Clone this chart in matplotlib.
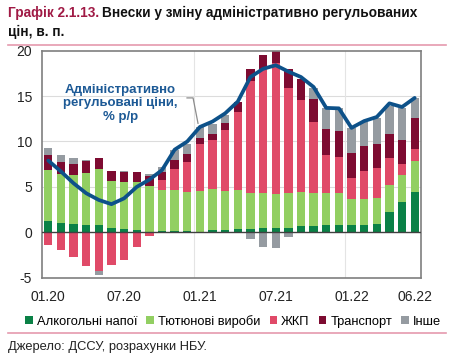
import matplotlib
matplotlib.use("Agg")
import matplotlib.pyplot as plt
import numpy as np

plt.rcParams['font.family'] = ['Liberation Sans', 'DejaVu Sans']

# Дані (в. п.), 01.20 - 06.22
months = ["01.20", "02.20", "03.20", "04.20", "05.20", "06.20", "07.20", "08.20", "09.20", "10.20",
          "11.20", "12.20", "01.21", "02.21", "03.21", "04.21", "05.21", "06.21", "07.21", "08.21",
          "09.21", "10.21", "11.21", "12.21", "01.22", "02.22", "03.22", "04.22", "05.22", "06.22"]
alcohol = [1.28, 1.06, 0.91, 0.78, 0.78, 0.45, 0.35, 0.25, 0.0, 0.1,
           0.1, 0.1, 0.0, 0.25, 0.25, 0.35, 0.33, 0.44, 0.5, 0.5,
           0.7, 0.7, 0.8, 0.8, 0.8, 0.8, 0.9, 2.27, 3.37, 4.48]
tobacco = [5.6, 5.32, 5.36, 5.78, 6.15, 5.2, 5.15, 5.3, 5.15, 4.6,
           4.6, 4.3, 4.6, 4.5, 4.35, 4.3, 3.97, 3.86, 3.7, 3.8,
           3.77, 3.6, 3.5, 3.5, 2.83, 2.83, 2.9, 2.93, 2.93, 3.37]
housing = [-1.35, -1.95, -2.7, -3.7, -4.3, -3.6, -3.1, -1.6, -0.45, 1.1,
           2.3, 3.3, 5.1, 5.4, 6.65, 8.65, 12.35, 13.7, 14.4, 11.55,
           10.1, 7.9, 4.2, 4.0, 2.37, 3.1, 3.25, 3.0, 1.25, 1.32]
transport = [1.62, 1.36, 1.3, 1.34, 1.25, 1.05, 1.1, 1.1, 1.0, 0.85,
             1.0, 0.9, 0.7, 0.65, 0.75, 1.0, 1.35, 1.5, 1.5, 2.15,
             2.35, 2.5, 2.9, 2.85, 2.77, 2.8, 2.65, 2.6, 2.65, 3.43]
other = [0.75, 0.8, 0.6, 0.1, -0.45, 0.0, 0.1, 0.0, 0.25, 0.55,
         1.1, 1.1, 1.2, 1.1, 0.9, 0.0, -0.77, -1.6, -1.77, -0.56,
         0.0, 1.2, 2.25, 2.5, 2.7, 2.6, 2.9, 3.1, 3.5, 2.2]
admin = [7.9, 6.7, 5.4, 4.3, 3.56, 3.1, 3.74, 5.0, 5.8, 6.85,
         9.1, 10.0, 11.6, 12.2, 13.1, 14.4, 17.1, 18.0, 18.4, 17.7,
         17.1, 16.0, 13.7, 13.65, 11.5, 12.25, 12.7, 14.2, 13.8, 14.8]

labels = ["Алкогольні напої", "Тютюнові вироби", "ЖКП", "Транспорт", "Інше"]
colors = ["#0a8146", "#92cf62", "#e04a68", "#7d0b31", "#959ba1"]
tick_pos = [0, 6, 12, 18, 24, 29]

fig = plt.figure(figsize=(4.55, 3.53), dpi=100)
ax = fig.add_axes([0.0917, 0.2133, 0.833, 0.6431])

x = np.arange(len(months))
pos_bottom = np.zeros(len(months))
neg_bottom = np.zeros(len(months))
for vals, col, lab in zip([alcohol, tobacco, housing, transport, other], colors, labels):
    v = np.array(vals)
    bottom = np.where(v >= 0, pos_bottom, neg_bottom)
    ax.bar(x, v, width=0.66, bottom=bottom, color=col, label=lab, zorder=2)
    pos_bottom += np.where(v >= 0, v, 0)
    neg_bottom += np.where(v < 0, v, 0)

ax.plot(x, admin, color="#0d5189", lw=2.7, zorder=4, solid_capstyle="round")
ax.axhline(0, color="#404040", lw=1, zorder=3)

ax.set_xlim(-0.52, 29.48)
ax.set_ylim(-5, 20)
ax.set_yticks([-5, 0, 5, 10, 15, 20])
ax.set_yticklabels(["-5", "0", "5", "10", "15", "20"])
ax.set_xticks(tick_pos)
ax.set_xticklabels([months[i] for i in tick_pos])
ax.tick_params(length=0, labelsize=10, colors="#222222")
ax.tick_params(axis="y", pad=7)
ax.tick_params(axis="x", pad=9)
for y in [5, 10, 15]:
    ax.axhline(y, color="#dcdcdc", lw=0.8, zorder=1)
for xv in [11.5, 23.5]:
    ax.axvline(xv, color="#e4e4e4", lw=0.8, zorder=1)
for s in ax.spines.values():
    s.set_color("#7f7f7f")
    s.set_linewidth(1.2)

# Підпис лінії
ax.text(5.7, 14.2, "Адміністративно\nрегульовані ціни,\n% р/р", ha="center", va="center",
        color="#1d5a96", fontsize=9.5, fontweight="bold", linespacing=1.15, zorder=5)
ax.plot([10.98, 11.46, 11.85], [14.8, 14.8, 12.0], color="#8c8c8c", lw=0.9, zorder=3)

# Легенда
ax.legend(loc="upper center", bbox_to_anchor=(0.505, -0.14), ncol=5, frameon=False,
          fontsize=9.3, handlelength=0.6, handleheight=0.6, handletextpad=0.3,
          columnspacing=0.7, borderaxespad=0)

# Заголовок
t1 = fig.text(8 / 455, 1 - 13 / 353, "Графік 2.1.13.", color="#a01a45", fontsize=9.8,
              fontweight="bold", va="center")
fig.canvas.draw()
bb = t1.get_window_extent()
fig.text(bb.x1 / fig.bbox.width + 0.006, 1 - 13 / 353, "Внески у зміну адміністративно регульованих",
         color="#111111", fontsize=9.8, fontweight="bold", va="center")
fig.text(8 / 455, 1 - 32 / 353, "цін, в. п.", color="#111111", fontsize=9.8,
         fontweight="bold", va="center")
fig.add_artist(plt.Line2D([8 / 455, 446 / 455], [1 - 45 / 353] * 2, color="#e59aae", lw=1.2))
fig.add_artist(plt.Line2D([8 / 455, 446 / 455], [1 - 333 / 353] * 2, color="#e59aae", lw=1.2))
fig.text(8 / 455, 1 - 347 / 353, "Джерело: ДССУ, розрахунки НБУ.", color="#222222", fontsize=9.3,
         va="center")

fig.savefig("out.png", dpi=100)
